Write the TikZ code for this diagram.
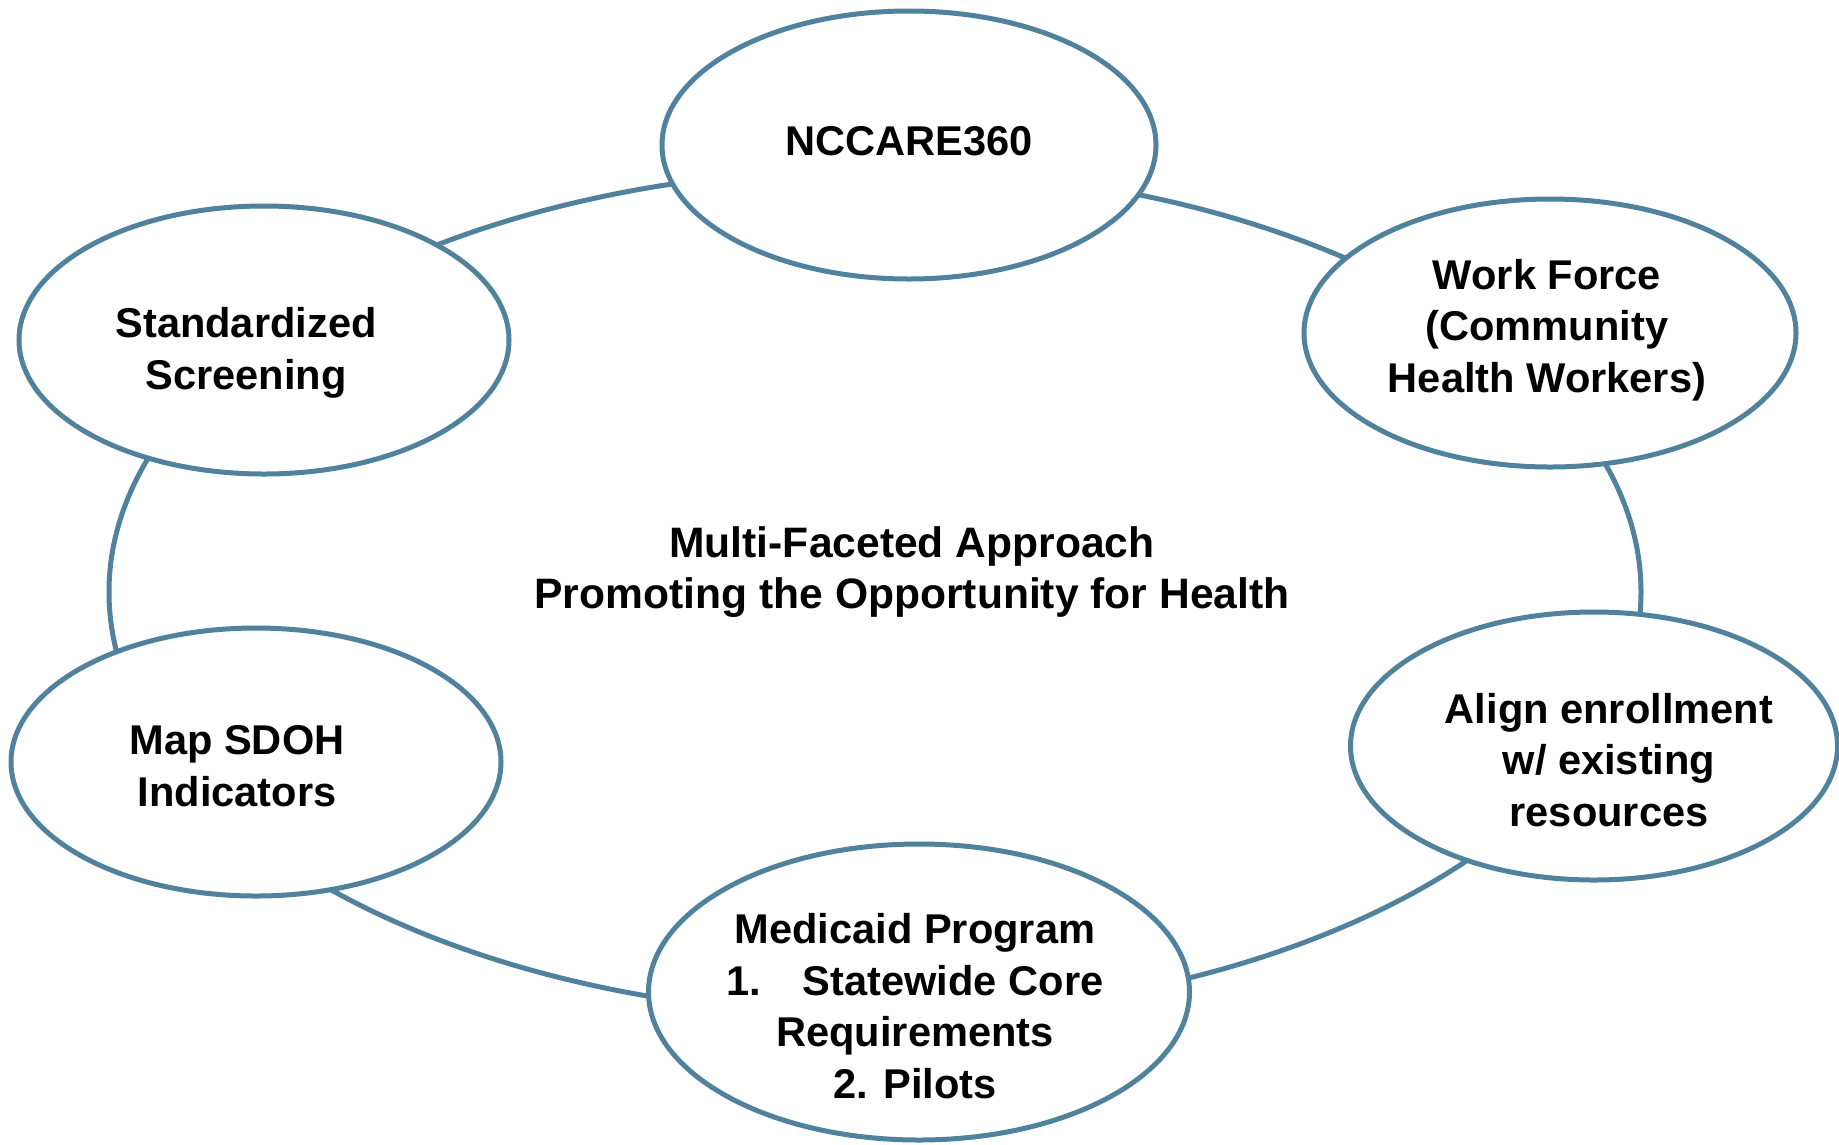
\documentclass[tikz,border=0pt]{standalone}
\usepackage{fontspec}
\setmainfont{Liberation Sans}
\usetikzlibrary{shapes.geometric}
\definecolor{ringblue}{RGB}{80,130,158}
\begin{document}
\begin{tikzpicture}[x=1pt,y=-1pt,
  oval/.style={ellipse,draw=ringblue,line width=5pt,fill=white,inner sep=0pt},
  lbl/.style={align=center,font=\bfseries\fontsize{41.6}{51.6}\selectfont,inner sep=0pt}]
\useasboundingbox (0,0) rectangle (1839,1144);
\node[ellipse,draw=ringblue,line width=5pt,minimum width=1532pt,minimum height=846pt,inner sep=0pt] (ring) at (875,592) {};
\node[oval,minimum width=494pt,minimum height=268pt] (n1) at (909,145) {};
\node[oval,minimum width=492pt,minimum height=268pt] (n2) at (1550,333) {};
\node[oval,minimum width=490pt,minimum height=268pt] (n3) at (264,340) {};
\node[oval,minimum width=490pt,minimum height=268pt] (n4) at (256,762) {};
\node[oval,minimum width=487pt,minimum height=268pt] (n5) at (1594,746) {};
\node[oval,minimum width=541pt,minimum height=296pt] (n6) at (919,992) {};
\node[lbl] (t1) at (909,141) {NCCARE360};
\node[lbl] (t2) at (1547,330) {Work Force\\(Community\\Health Workers)};
\node[lbl] (t3) at (246,353) {Standardized\\Screening};
\node[lbl] (t4) at (237,766) {Map SDOH\\Indicators};
\node[lbl] (t5) at (1609,760) {Align enrollment\\w/ existing\\resources};
\node[lbl] (t6) at (915,1006) {Medicaid Program\\1.\hspace*{1em}Statewide Core\\Requirements\\2. Pilots};
\node[lbl,font=\bfseries\fontsize{42.6}{51.6}\selectfont] (t0) at (912,572) {Multi-Faceted Approach\\Promoting the Opportunity for Health};
\end{tikzpicture}
\end{document}
